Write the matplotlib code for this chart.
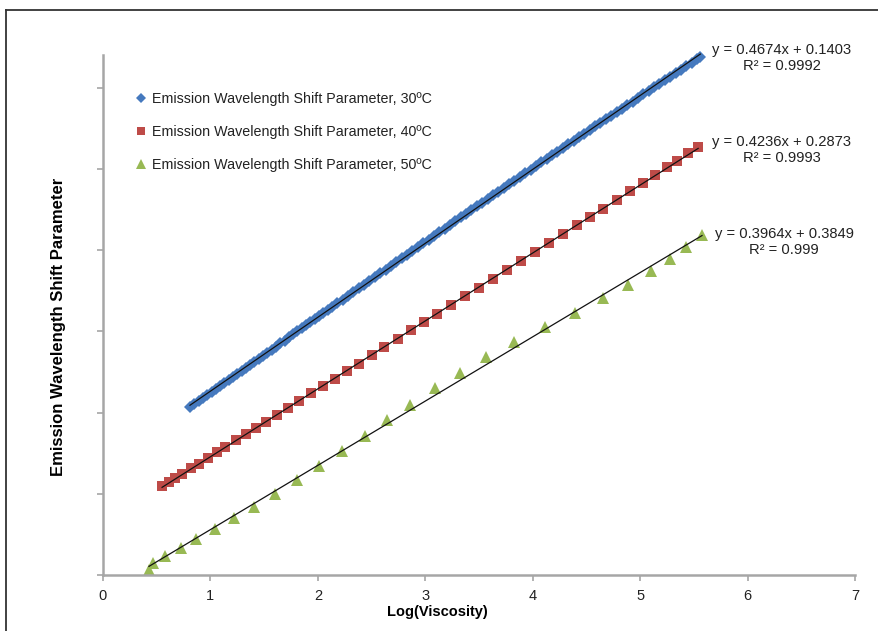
import numpy as np
import matplotlib
matplotlib.use("Agg")
import matplotlib.pyplot as plt
from matplotlib.lines import Line2D

plt.rcParams['font.family'] = ['Liberation Sans', 'DejaVu Sans']

# 30 C series (plotted offset values)
x30 = [0.81, 0.85, 0.89, 0.93, 0.97, 1.01, 1.05, 1.09, 1.13, 1.17, 1.21, 1.25,
       1.29, 1.33, 1.37, 1.41, 1.45,
       1.49, 1.53, 1.57, 1.61, 1.65, 1.69, 1.73, 1.77, 1.81, 1.85, 1.89, 1.93,
       1.97, 2.01, 2.05, 2.09,
       2.13, 2.18, 2.23, 2.28, 2.33, 2.38, 2.43, 2.48, 2.53, 2.58, 2.63, 2.68, 2.73,
       2.78, 2.83, 2.88, 2.93, 2.98, 3.03, 3.08, 3.13, 3.18, 3.23, 3.28, 3.33, 3.38,
       3.43, 3.48, 3.53, 3.58, 3.63, 3.68, 3.73, 3.78, 3.83, 3.88, 3.93, 3.98, 4.03,
       4.08, 4.13, 4.18, 4.23, 4.28, 4.33, 4.38, 4.43, 4.48, 4.53, 4.58, 4.63, 4.68,
       4.73, 4.78, 4.83, 4.88, 4.93, 4.98, 5.03, 5.08, 5.13, 5.18, 5.23, 5.28, 5.33,
       5.38, 5.43, 5.48, 5.53, 5.56]
y30 = [1.033, 1.051, 1.070, 1.089, 1.107, 1.126, 1.145, 1.163, 1.182, 1.201,
       1.219, 1.238, 1.257, 1.275, 1.294, 1.313, 1.331,
       1.350, 1.369, 1.387, 1.406, 1.425, 1.443, 1.462, 1.481, 1.499, 1.518,
       1.537, 1.555, 1.574, 1.593, 1.611, 1.629,
       1.648, 1.671, 1.694, 1.717, 1.740, 1.764, 1.787, 1.810, 1.833, 1.856,
       1.879, 1.902, 1.925,
       1.948, 1.971, 1.995, 2.018, 2.041, 2.064, 2.087, 2.110, 2.132, 2.154,
       2.177, 2.200, 2.223,
       2.245, 2.268, 2.291, 2.314, 2.337, 2.359, 2.381, 2.404, 2.427, 2.450,
       2.472, 2.495, 2.518,
       2.540, 2.562, 2.584, 2.606, 2.628, 2.650, 2.672, 2.694, 2.716, 2.739,
       2.761, 2.782, 2.804,
       2.826, 2.847, 2.869, 2.891, 2.913, 2.935, 2.957, 2.979, 3.001, 3.023,
       3.044, 3.066, 3.088, 3.110, 3.132, 3.153, 3.175, 3.189]

# 40 C series
x40 = [0.55, 0.61, 0.67, 0.74, 0.82, 0.89, 0.98, 1.06, 1.14, 1.24, 1.33, 1.42,
       1.52, 1.62, 1.72, 1.82, 1.94, 2.05, 2.16, 2.27, 2.38, 2.50, 2.62, 2.75,
       2.87, 2.99, 3.11, 3.24, 3.37, 3.50, 3.63, 3.76, 3.89, 4.02, 4.15, 4.28,
       4.41, 4.53, 4.65, 4.78, 4.91, 5.03, 5.14, 5.25, 5.34, 5.45, 5.54]
y40 = [0.550, 0.572, 0.596, 0.624, 0.657, 0.685, 0.722, 0.754, 0.787, 0.828,
       0.865, 0.902, 0.943, 0.985, 1.026, 1.068, 1.117, 1.163, 1.209, 1.255,
       1.301, 1.351, 1.401, 1.455, 1.505, 1.555, 1.606, 1.660, 1.714, 1.769,
       1.824, 1.878, 1.933, 1.987, 2.042, 2.097, 2.152, 2.203, 2.254, 2.309,
       2.364, 2.415, 2.462, 2.509, 2.547, 2.594, 2.633]

# 50 C series
x50 = [0.428, 0.465, 0.577, 0.726, 0.866, 1.043, 1.219, 1.406, 1.601, 1.806,
       2.011, 2.225, 2.439, 2.644, 2.858, 3.090, 3.323, 3.565, 3.826, 4.114,
       4.393, 4.654, 4.887, 5.101, 5.278, 5.427, 5.576]
y50 = [0.031, 0.074, 0.117, 0.166, 0.221, 0.283, 0.351, 0.418, 0.498, 0.584,
       0.670, 0.763, 0.855, 0.953, 1.046, 1.150, 1.242, 1.341, 1.433, 1.525,
       1.611, 1.704, 1.783, 1.870, 1.943, 2.017, 2.091]

labels = ['Emission Wavelength Shift Parameter, 30\u00baC',
          'Emission Wavelength Shift Parameter, 40\u00baC',
          'Emission Wavelength Shift Parameter, 50\u00baC']
equations = ['y = 0.4674x + 0.1403\nR\u00b2 = 0.9992',
             'y = 0.4236x + 0.2873\nR\u00b2 = 0.9993',
             'y = 0.3964x + 0.3849\nR\u00b2 = 0.999']
eq_pos = [(6.32, 3.18), (6.32, 2.615), (6.34, 2.05)]
colors = ['#4579BE', '#BE4B48', '#98B954']
markers = ['D', 's', '^']
msizes = [6.5, 7.5, 8.5]

fig = plt.figure(figsize=(8.79, 6.31), dpi=100)
ax = fig.add_axes([103 / 879, 1 - 575 / 631, (855 - 103) / 879, (575 - 55) / 631])

series = [(x30, y30), (x40, y40), (x50, y50)]
for (xs, ys), lab, c, m, ms in zip(series, labels, colors, markers, msizes):
    ax.plot(xs, ys, linestyle='none', marker=m, markersize=ms, color=c,
            markeredgewidth=0, label=lab, clip_on=False, zorder=2)

# linear trendlines
for (xs, ys) in series:
    k, b = np.polyfit(xs, ys, 1)
    xx = np.array([min(xs), max(xs)])
    ax.plot(xx, k * xx + b, color='#111111', lw=0.9, zorder=3, clip_on=False)

for txt, (tx, ty) in zip(equations, eq_pos):
    ax.text(tx, ty, txt, ha='center', va='center', fontsize=10.6,
            color='#222222', multialignment='center', linespacing=1.15)

ax.set_xlim(0, 7)
ax.set_ylim(0, 3.2)
ax.set_xticks(range(0, 8))
ax.set_yticks([0, 0.5, 1.0, 1.5, 2.0, 2.5, 3.0])
ax.set_yticklabels([])
ax.tick_params(axis='both', direction='out', length=4, width=1.2,
               color='#A6A6A6', labelsize=10.5, labelcolor='#222222')
ax.tick_params(axis='x', pad=6)
for side in ['top', 'right']:
    ax.spines[side].set_visible(False)
for side in ['left', 'bottom']:
    ax.spines[side].set_color('#A6A6A6')
    ax.spines[side].set_linewidth(1.8)

fig.text(437 / 879, 1 - 612 / 631, 'Log(Viscosity)', ha='center', va='center',
         fontsize=10.5, fontweight='bold')
fig.text(59 / 879, 1 - 327 / 631, 'Emission Wavelength Shift Parameter',
         rotation=90, ha='center', va='center', fontsize=12, fontweight='bold')

leg = ax.legend(loc='upper left', bbox_to_anchor=(0.024, 0.953), frameon=False,
                fontsize=10.3, handletextpad=0.25, labelspacing=1.33,
                handlelength=1.0, markerscale=0.85)
for t in leg.get_texts():
    t.set_color('#222222')

# outer frame of the chart area
fig.add_artist(Line2D([6 / 879, 1], [1 - 10 / 631, 1 - 10 / 631],
                      color='#333333', lw=1.3))
fig.add_artist(Line2D([6 / 879, 6 / 879], [0, 1 - 10 / 631],
                      color='#333333', lw=1.3))

fig.savefig('out.png', dpi=100)
